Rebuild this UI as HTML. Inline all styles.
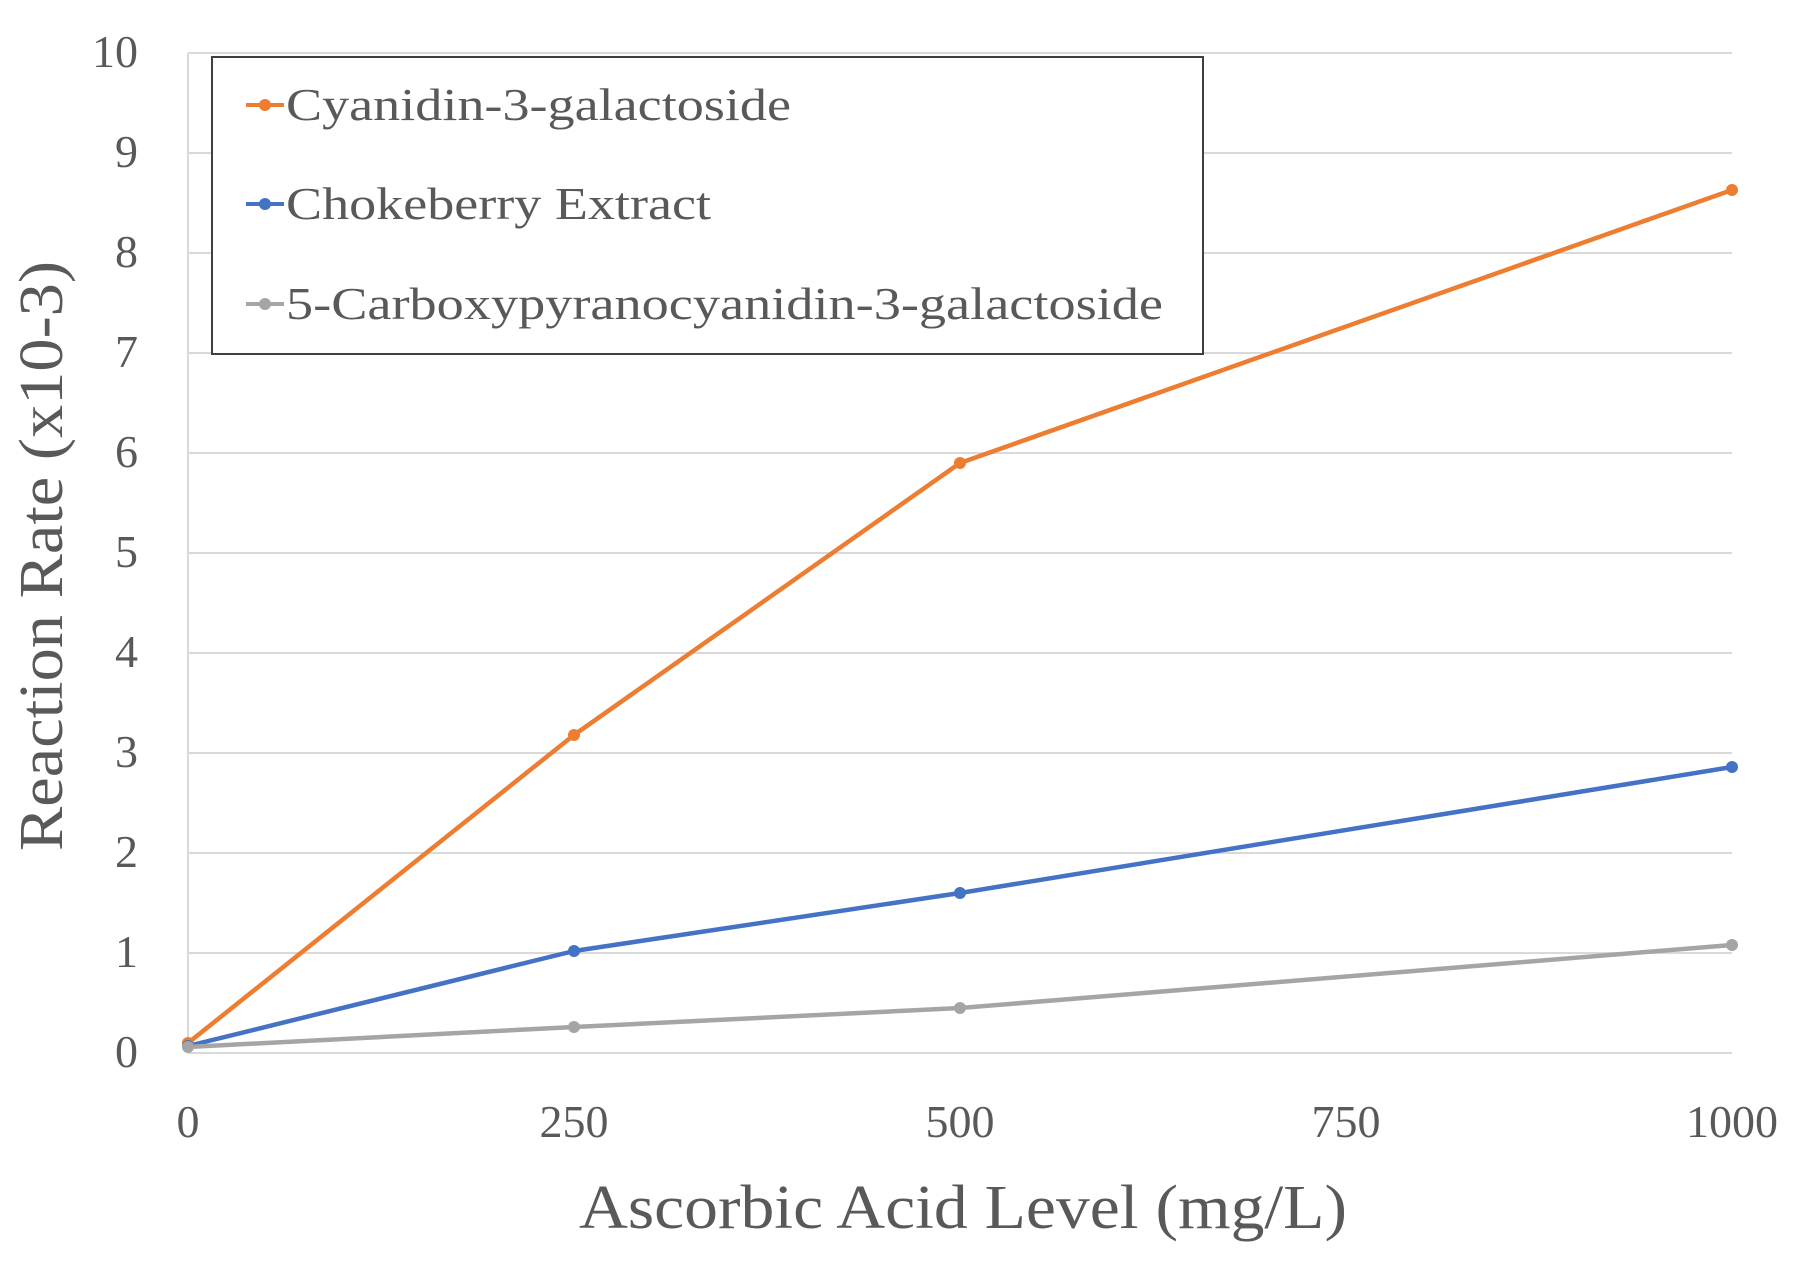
<!DOCTYPE html>
<html><head><meta charset="utf-8"><style>html,body{margin:0;padding:0;background:#fff}</style></head><body>
<svg width="1808" height="1264" xmlns="http://www.w3.org/2000/svg" font-family="Liberation Serif, serif" fill="#595959">
<g stroke="#d9d9d9" stroke-width="2">
<line x1="188" y1="53" x2="1732" y2="53"/><line x1="188" y1="153" x2="1732" y2="153"/><line x1="188" y1="253" x2="1732" y2="253"/><line x1="188" y1="353" x2="1732" y2="353"/><line x1="188" y1="453" x2="1732" y2="453"/><line x1="188" y1="553" x2="1732" y2="553"/><line x1="188" y1="653" x2="1732" y2="653"/><line x1="188" y1="753" x2="1732" y2="753"/><line x1="188" y1="853" x2="1732" y2="853"/><line x1="188" y1="953" x2="1732" y2="953"/><line x1="188" y1="1053" x2="1732" y2="1053"/>
<line x1="188" y1="53" x2="188" y2="1053"/>
</g>
<g font-size="46" text-anchor="end">
<text x="138" y="67">10</text><text x="138" y="167">9</text><text x="138" y="267">8</text><text x="138" y="367">7</text><text x="138" y="467">6</text><text x="138" y="567">5</text><text x="138" y="667">4</text><text x="138" y="767">3</text><text x="138" y="867">2</text><text x="138" y="967">1</text><text x="138" y="1067">0</text>
</g>
<g font-size="46" text-anchor="middle">
<text x="188" y="1137">0</text><text x="574" y="1137">250</text><text x="960" y="1137">500</text><text x="1346" y="1137">750</text><text x="1732" y="1137">1000</text>
</g>
<text x="963" y="1228" font-size="62" text-anchor="middle" textLength="768" lengthAdjust="spacingAndGlyphs">Ascorbic Acid Level (mg/L)</text>
<text transform="translate(62,556) rotate(-90)" font-size="62" text-anchor="middle" textLength="590" lengthAdjust="spacingAndGlyphs">Reaction Rate (x10-3)</text>
<g fill="none" stroke-width="4.5" stroke-linejoin="round">
<polyline stroke="#ED7D31" points="188,1043 574,735 960,463 1732,190"/>
<polyline stroke="#4472C4" points="188,1046 574,951 960,893 1732,767"/>
<polyline stroke="#A5A5A5" points="188,1047 574,1027 960,1008 1732,945"/>
</g>
<g fill="#ED7D31"><circle cx="188" cy="1043" r="6"/><circle cx="574" cy="735" r="6"/><circle cx="960" cy="463" r="6"/><circle cx="1732" cy="190" r="6"/></g>
<g fill="#4472C4"><circle cx="188" cy="1046" r="6"/><circle cx="574" cy="951" r="6"/><circle cx="960" cy="893" r="6"/><circle cx="1732" cy="767" r="6"/></g>
<g fill="#A5A5A5"><circle cx="188" cy="1047" r="6"/><circle cx="574" cy="1027" r="6"/><circle cx="960" cy="1008" r="6"/><circle cx="1732" cy="945" r="6"/></g>
<rect x="212" y="57" width="991" height="297" fill="#fff" stroke="#404040" stroke-width="2"/>
<g stroke-width="4"><line x1="246" y1="105" x2="284" y2="105" stroke="#ED7D31"/><line x1="246" y1="204" x2="284" y2="204" stroke="#4472C4"/><line x1="246" y1="304" x2="284" y2="304" stroke="#A5A5A5"/></g>
<circle cx="265" cy="105" r="6" fill="#ED7D31"/><circle cx="265" cy="204" r="6" fill="#4472C4"/><circle cx="265" cy="304" r="6" fill="#A5A5A5"/>
<g font-size="46">
<text x="286" y="120" textLength="505" lengthAdjust="spacingAndGlyphs">Cyanidin-3-galactoside</text>
<text x="286" y="219" textLength="425" lengthAdjust="spacingAndGlyphs">Chokeberry Extract</text>
<text x="286" y="319" textLength="877" lengthAdjust="spacingAndGlyphs">5-Carboxypyranocyanidin-3-galactoside</text>
</g>
</svg>
</body></html>
